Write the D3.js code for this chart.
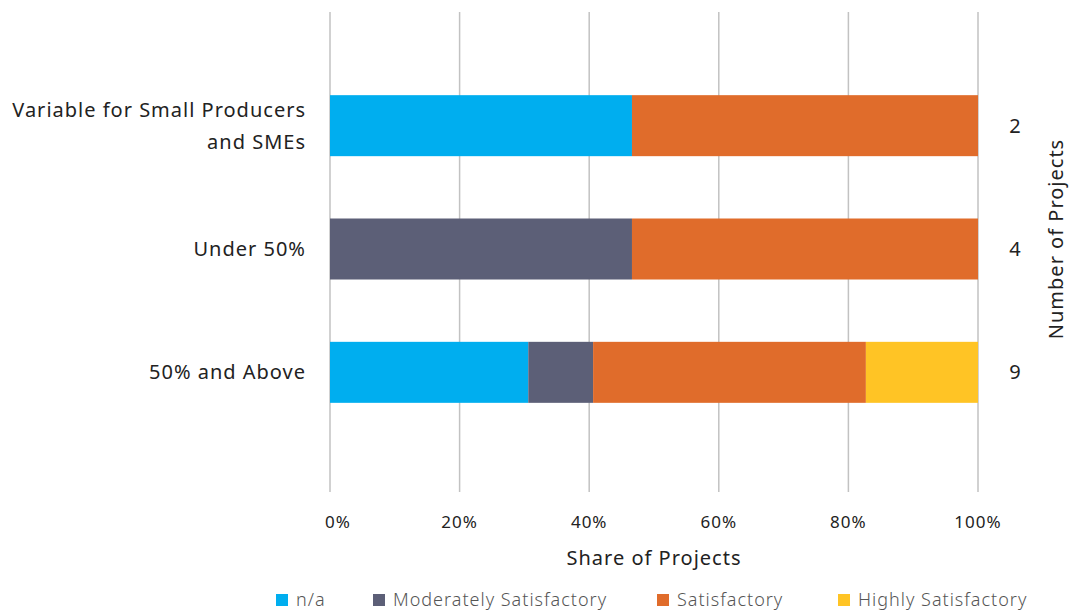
<!DOCTYPE html>
<html><head><meta charset="utf-8">
<script src="https://cdn.jsdelivr.net/npm/d3@7"></script>
<style>body{margin:0;background:#fff}svg{display:block}</style>
</head><body>
<svg id="c" width="1071" height="613"></svg>
<script>
const categories = ["Variable for Small Producers\nand SMEs", "Under 50%", "50% and Above"];
const seriesNames = ["n/a", "Moderately Satisfactory", "Satisfactory", "Highly Satisfactory"];
const naVals = [46.6, 0, 30.6];
const moderateVals = [0, 46.6, 10.0];
const satisfactoryVals = [53.4, 53.4, 42.1];
const highlyVals = [0, 0, 17.3];
const projectCounts = [2, 4, 9];
const tickValues = [0, 20, 40, 60, 80, 100];
const colors = ["#00AEEF", "#5C5F77", "#E06C2B", "#FFC425"];

const font = "'Noto Sans', sans-serif";
const svg = d3.select("#c");
const x = d3.scaleLinear().domain([0, 100]).range([330, 978]);
const y = d3.scaleBand().domain(categories).range([64, 434]).paddingInner(0.5).paddingOuter(0.25);

// gridlines
svg.append("g").selectAll("line").data(tickValues).join("line")
  .attr("x1", d => x(d)).attr("x2", d => x(d)).attr("y1", 12).attr("y2", 492)
  .attr("stroke", "#c2c2c2").attr("stroke-width", 1.5);

// stacked data
const rows = categories.map((c, i) => ({cat: c, "n/a": naVals[i], "Moderately Satisfactory": moderateVals[i], "Satisfactory": satisfactoryVals[i], "Highly Satisfactory": highlyVals[i]}));
const stack = d3.stack().keys(seriesNames)(rows);
const bh = 61;
svg.append("g").selectAll("g").data(stack).join("g")
  .attr("fill", (d, i) => colors[i])
  .selectAll("rect").data(d => d).join("rect")
  .attr("x", d => x(d[0])).attr("width", d => x(d[1]) - x(d[0]))
  .attr("y", d => y(d.data.cat) + y.bandwidth() / 2 - bh / 2).attr("height", bh);

// category labels
const lab = svg.append("g").selectAll("text").data(categories).join("text")
  .attr("text-anchor", "end").attr("font-family", font).attr("font-size", 20).attr("letter-spacing", 1).attr("fill", "#222")
  .attr("transform", d => `translate(306,${y(d) + y.bandwidth() / 2})`);
lab.each(function(d) {
  const lines = d.split("\n");
  const t = d3.select(this);
  lines.forEach((l, i) => {
    t.append("tspan").attr("x", 0).attr("dy", i === 0 ? ((-(lines.length - 1) * 32) / 2 + 7) : 32).text(l);
  });
});

// counts on right
svg.append("g").selectAll("text").data(projectCounts).join("text")
  .attr("x", 1015).attr("y", (d, i) => y(categories[i]) + y.bandwidth() / 2 + 7)
  .attr("text-anchor", "middle").attr("font-family", font).attr("font-size", 20).attr("fill", "#222")
  .text(d => d);
svg.append("text").attr("transform", "translate(1063,239) rotate(-90)")
  .attr("text-anchor", "middle").attr("font-family", font).attr("font-size", 20).attr("letter-spacing", 1).attr("fill", "#222")
  .text("Number of Projects");

// x axis tick labels
svg.append("g").selectAll("text").data(tickValues).join("text")
  .attr("x", d => x(d) + (d === 0 ? 8 : 0)).attr("y", 528)
  .attr("text-anchor", "middle").attr("font-family", font).attr("font-size", 17).attr("letter-spacing", 1).attr("fill", "#222")
  .text(d => d + "%");
svg.append("text").attr("x", 654).attr("y", 565).attr("text-anchor", "middle")
  .attr("font-family", font).attr("font-size", 20).attr("letter-spacing", 1).attr("fill", "#222").text("Share of Projects");

// legend
const legX = [276, 373, 657, 838];
const leg = svg.append("g").selectAll("g").data(seriesNames).join("g")
  .attr("transform", (d, i) => `translate(${legX[i]},594)`);
leg.append("rect").attr("width", 12).attr("height", 12).attr("fill", (d, i) => colors[i]);
leg.append("text").attr("x", 20).attr("y", 12).attr("font-family", font).attr("font-size", 18)
  .attr("letter-spacing", 1).attr("font-weight", 300).attr("fill", "#555").text(d => d);
</script>
</body></html>
